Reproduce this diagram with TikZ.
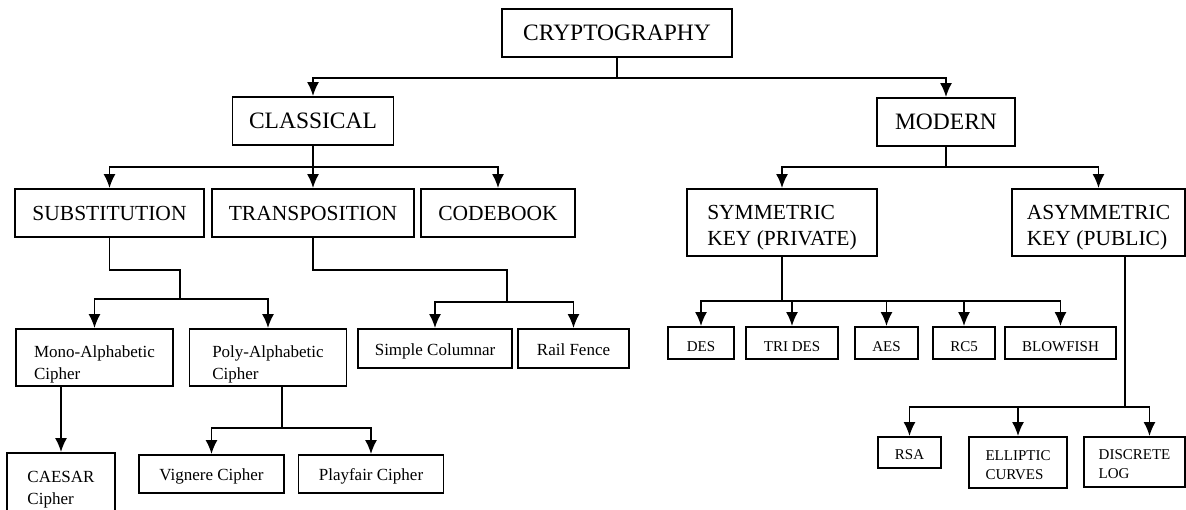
\documentclass[tikz,border=0pt]{standalone}
\usepackage{fontspec}
\setmainfont{Liberation Serif}
\usetikzlibrary{arrows.meta}
\newcommand{\lowr}[1]{\rule{0pt}{#1}}

\begin{document}
\begin{tikzpicture}[>={Latex[length=14pt,width=12pt]},x=1pt,y=-1pt,line width=1.8pt,
box/.style={rectangle,draw=black,fill=white,inner sep=0pt,align=center},
big/.style={box,minimum height=48pt,font=\fontsize{23.5}{28}\selectfont},
mid/.style={box,font=\fontsize{21.5}{26}\selectfont},
small/.style={box,font=\fontsize{17}{22}\selectfont},
oneline/.style={small,text height=17pt,text depth=4pt},
tiny/.style={box,font=\fontsize{15}{19}\selectfont}]
\useasboundingbox (0,0) rectangle (1186,509);
\node (crypto) at (617,33)[big,minimum width=230pt]{CRYPTOGRAPHY};
\node (classical) at (313,121)[big,minimum width=161pt]{CLASSICAL};
\node (modern) at (946,122)[big,minimum width=138pt]{MODERN};
\node (subst) at (109.5,213)[mid,minimum width=189pt,minimum height=48pt]{SUBSTITUTION};
\node (trans) at (313,213)[mid,minimum width=202pt,minimum height=48pt]{TRANSPOSITION};
\node (codebook) at (498,213)[mid,minimum width=154pt,minimum height=48pt]{CODEBOOK};
\node (symm) at (782,222.5)[mid,align=left,minimum width=190pt,minimum height=67pt]{\lowr{24pt}SYMMETRIC\\KEY (PRIVATE)};
\node (asym) at (1098.5,222.5)[mid,align=left,minimum width=173pt,minimum height=67pt]{\lowr{24pt}ASYMMETRIC\\KEY (PUBLIC)};
\node (mono) at (94.5,357.5)[small,align=left,minimum width=157pt,minimum height=57pt]{\lowr{25pt}Mono-Alphabetic\\Cipher};
\node (poly) at (268,357.5)[small,align=left,minimum width=157pt,minimum height=57pt]{\lowr{25pt}Poly-Alphabetic\\Cipher};
\node (simple) at (435,348.5)[oneline,minimum width=154pt,minimum height=39pt]{Simple Columnar};
\node (rail) at (573.5,348.5)[oneline,minimum width=111pt,minimum height=39pt]{Rail Fence};
\node (caesar) at (61,490)[small,align=left,minimum width=108pt,minimum height=74pt]{CAESAR\\Cipher};
\node (vign) at (211.5,474)[oneline,minimum width=145pt,minimum height=38pt]{Vignere Cipher};
\node (playf) at (371,474)[oneline,minimum width=145pt,minimum height=38pt]{Playfair Cipher};
\node (des) at (701,343)[tiny,minimum width=66pt,minimum height=32pt]{\lowr{17pt}DES};
\node (trides) at (792,343)[tiny,minimum width=92pt,minimum height=32pt]{\lowr{17pt}TRI DES};
\node (aes) at (886.5,343)[tiny,minimum width=63pt,minimum height=32pt]{\lowr{17pt}AES};
\node (rc5) at (964,343)[tiny,minimum width=62pt,minimum height=32pt]{\lowr{17pt}RC5};
\node (blowfish) at (1060.5,343)[tiny,minimum width=111pt,minimum height=32pt]{\lowr{17pt}BLOWFISH};
\node (rsa) at (909.5,452.5)[tiny,minimum width=63pt,minimum height=31pt]{\lowr{14pt}RSA};
\node (elliptic) at (1018,462.5)[tiny,align=left,minimum width=98pt,minimum height=51pt]{\lowr{15pt}ELLIPTIC\\CURVES};
\node (discrete) at (1134.5,462)[tiny,align=left,minimum width=101pt,minimum height=50pt]{\lowr{15pt}DISCRETE\\LOG};
\coordinate (sb) at (180,299);
\coordinate (tb) at (507,302);
\coordinate (pb) at (282,428);
\coordinate (ak) at (1125,407);

\draw[->](crypto.south)--++(0,20)-|(classical);
\draw[->](crypto.south)++(0,20)-|(modern);
\draw[->](classical.south)--++(0,21)-|(subst);
\draw[->](classical)--(trans);
\draw[->](classical.south)++(0,21)-|(codebook);
\draw[->](modern.south)--++(0,20)-|(symm);
\draw[->](modern.south)++(0,20)-|(asym);
\draw(subst.south)--++(0,32)-|(sb);
\draw[->](sb)-|(mono);
\draw[->](sb)-|(poly);
\draw(trans.south)--++(0,32)-|(tb);
\draw[->](tb)-|(simple);
\draw[->](tb)-|(rail);
\draw[->](mono.south-|caesar)--(caesar);
\draw(poly.south-|pb)--(pb);
\draw[->](pb)-|(vign);
\draw[->](pb)-|(playf);
\draw[->](symm.south)--++(0,44)-|(des);
\foreach \n in {trides,aes,rc5,blowfish}
  \draw[->](symm.south)++(0,44)-|(\n);
\draw(asym.south-|ak)--(ak);
\draw[->](ak)-|(rsa);
\draw[->](ak)-|(elliptic);
\draw[->](ak)-|([xshift=15pt]discrete.north);
\end{tikzpicture}
\end{document}
